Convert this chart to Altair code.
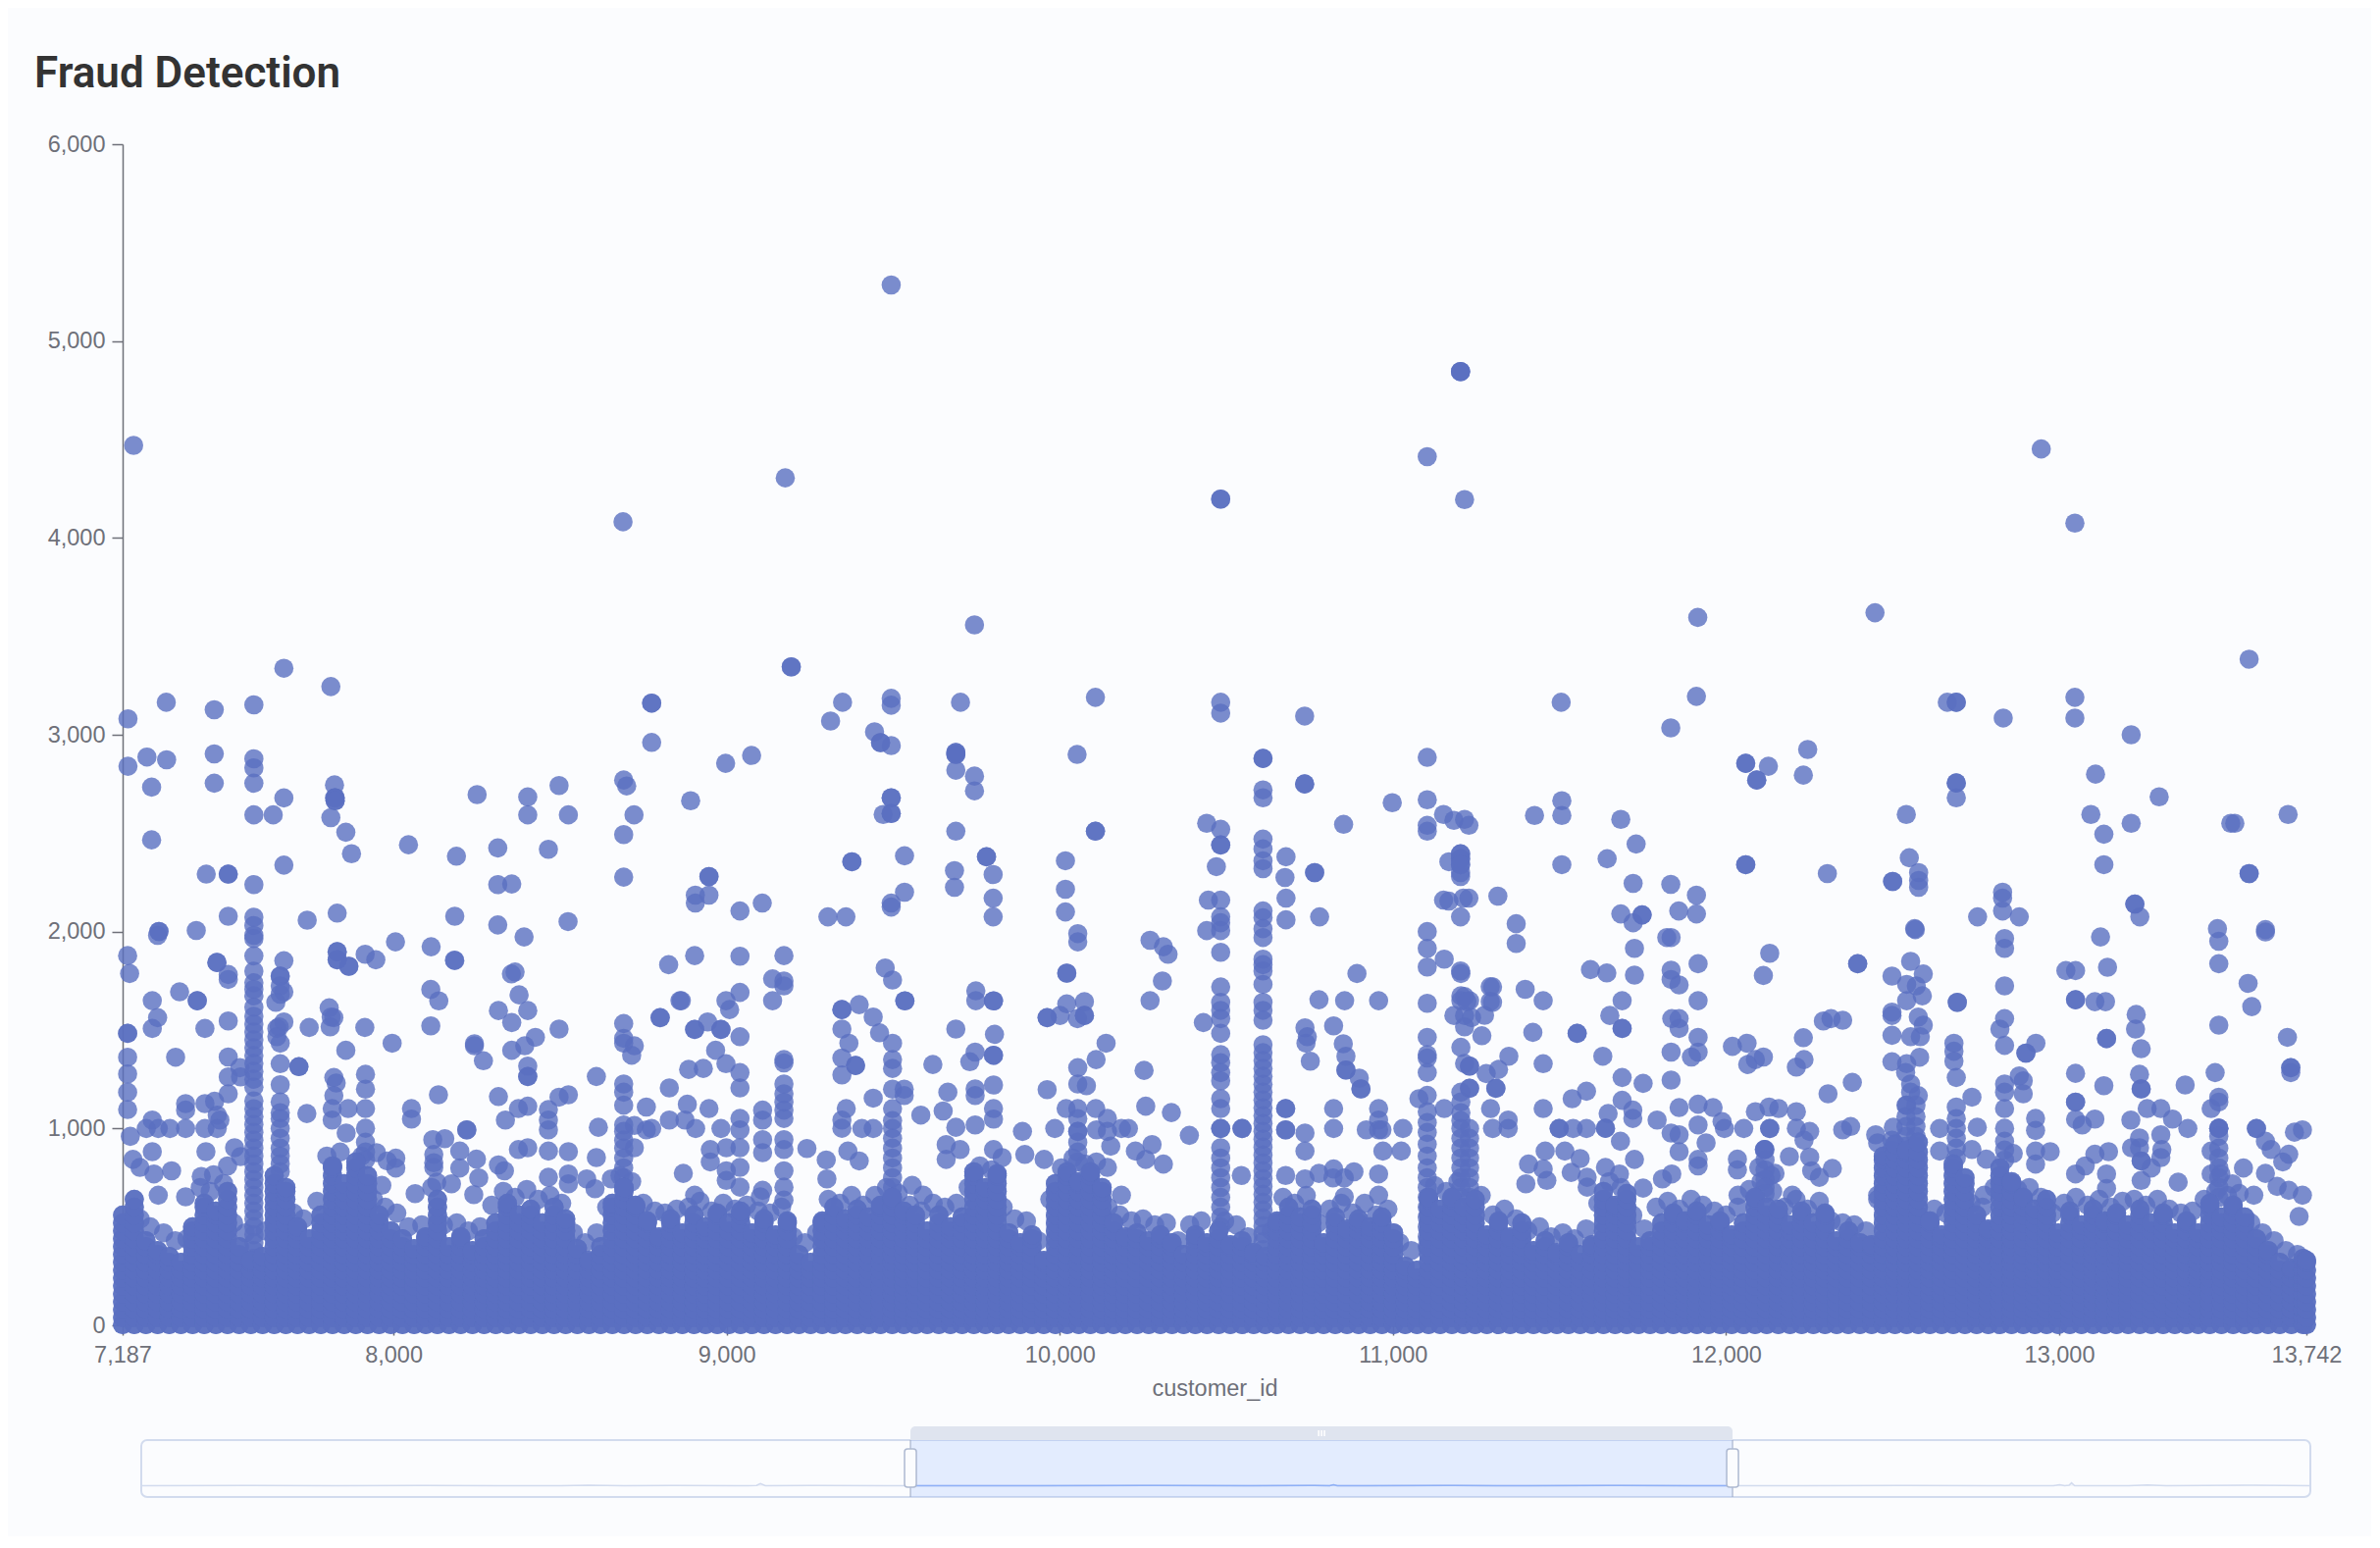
import altair as alt
import pandas as pd

# Values. The solid band near zero cannot be resolved into single
# customers, so it is given by its visible height at each customer_id.
upper_points = [
(9494,5285),(7220,4470),(11203,4845),(11103,4413),(11215,4195),(9176,4305),(8689,4082),(12946,4452),(13047,4075),
(9744,3558),(11915,3596),(12447,3620),(13570,3384),(7671,3338),(7812,3245),(7203,3081),(7203,2840),(7318,3165),(7462,3127),
(7581,3152),(7260,2887),(7319,2873),(7462,2903),(7462,2754),(7274,2734),(7274,2466),(7581,2878),(7581,2832),(7581,2754),
(7823,2745),(7823,2679),(7812,2579),(7857,2505),(7874,2396),(7581,2593),(7639,2593),(7671,2679),(7671,2338),(7438,2292),
(7581,2239),(8045,2441),(8189,2383),(8251,2696),(8313,2425),(8403,2684),(8403,2593),(8525,2593),(8497,2742),(8465,2418),
(8313,2239),(8355,2242),(8691,2770),(8700,2740),(8722,2593),(8691,2493),(8691,2277),(8775,2961),(8892,2665),(8997,2855),
(9075,2895),(9107,2145),(9040,2105),(8947,2185),(8906,2185),(8906,2145),(9312,3070),(9348,3165),(9304,2075),(9358,2075),
(9444,3015),(9494,3185),(9494,3150),(9494,2945),(9470,2595),(9534,2385),(9534,2200),(9494,2145),(9494,2125),(9684,2310),
(9684,2225),(9688,2510),(9702,3165),(9688,2820),(9744,2790),(9744,2715),(9800,2290),(9800,2170),(9800,2075),(10017,2360),
(10017,2215),(10017,2100),(10052,2900),(10107,3190),(10483,3165),(10483,3110),(10441,2550),(10483,2520),(10470,2330),
(10446,2160),(10483,2160),(10483,2075),(10483,2045),(10441,2005),(10483,2005),(10610,2720),(10610,2680),(10610,2470),
(10610,2420),(10610,2360),(10610,2320),(10610,2105),(10610,2070),(10610,2015),(10610,1970),(10679,2380),(10676,2275),
(10679,2170),(10679,2060),(10735,3095),(10780,2075),(10852,2545),(10998,2655),(11103,2885),(11103,2670),(11103,2540),
(11103,2510),(11103,2000),(11103,1915),(11152,2595),(11183,2565),(11215,2570),(11228,2540),(11168,2355),(11203,2300),
(11203,2280),(11152,2160),(11168,2155),(11211,2170),(11228,2170),(11203,2075),(11315,2180),(11370,2040),(11370,1940),
(11425,2590),(11507,2590),(11507,2665),(11507,2340),(11505,3165),(11643,2370),(11684,2570),(11730,2445),(11721,2245),
(11684,2090),(11721,2045),(11834,2240),(11858,2105),(11911,2185),(11911,2090),(11834,3035),(11911,3195),(12127,2840),
(12245,2925),(12232,2795),(12304,2295),(12541,2595),(12550,2375),(12578,2300),(12578,2260),(12578,2225),(12566,2015),
(12568,2010),(12664,3165),(12691,2680),(12755,2075),(12832,3085),(12830,2200),(12830,2170),(12830,2105),(12880,2075),
(13047,3190),(13047,3085),(13109,2800),(13095,2595),(13134,2495),(13134,2340),(13216,3000),(13216,2550),(13242,2075),
(13300,2685),(13475,2015),(13515,2550),(13527,2550),(13619,2010),(13687,2595),
]
double_points = [
(11203,4845),(10483,4197),(9194,3345),(8775,3161),(7504,2292),(7296,2001),(7825,2680),(7825,2665),(9376,2355),
(9494,2680),(9494,2600),(9462,2960),(9688,2910),(9688,2900),(9780,2380),(10107,2510),(10483,2440),(10610,2880),
(10735,2750),(10765,2300),(11203,2395),(11203,2370),(11203,2340),(11748,2085),(12059,2855),(12059,2340),(12092,2770),
(12500,2255),(12691,3165),(12691,2755),(13227,2140),(13570,2295),(8947,2280),(7831,1898),
(7831,1857),(7866,1824),(7470,1843),(7716,1314),(7411,1649),(7202,1483),(7660,1774),(8220,993),(8403,1264),
(8904,1503),(8983,1503),(9346,1604),(9387,1320),(9535,1648),(9801,1648),(9801,1372),(10021,1789),(9962,1563),
(10074,1574),(10547,1000),(10678,1101),(10678,993),(11553,1483),(11688,1508),(12395,1837),(12694,1641),(12900,1383),
(13049,1654),(13142,1457),(13695,1309),(13049,1134),(13592,1000),(12131,1000),(12115,893),(13479,1001),(11230,1317),
(11230,1204),(11309,1204),(10859,1297),(10904,1201),(11499,1000),(11638,1001),(13246,835),(13246,1201),
]
middle_points = [
(7202,1878),(7208,1787),(7292,1981),(7408,2006),(7504,2078),(7741,2058),(7831,2094),(8006,1948),(8113,1923),(8184,2078),
(8184,1853),(8313,2034),(8524,2051),(8392,1973),(7915,1885),(7947,1857),(7671,1852),(7504,1782),(7504,1757),(7660,1724),
(7660,1682),(7671,1694),(7647,1641),(7671,1541),(7657,1516),(7650,1508),(7650,1466),(7660,1433),(7660,1329),(7660,1222),
(7740,1076),(7747,1513),(7807,1613),(7813,1566),(7821,1563),(7810,1516),(8183,1855),(8112,1706),(8136,1648),(8112,1521),
(8354,1785),(8365,1795),(8377,1679),(8403,1599),(8315,1599),(8355,1538),(8426,1463),(8394,1420),(8355,1397),(8497,1505),
(8243,1430),(8243,1420),(8270,1344),(8403,1317),(8609,1264),(8691,1533),(8691,1458),(8691,1433),(8723,1420),(8715,1372),
(7914,1513),(7996,1433),(7857,1397),(7346,1362),(7434,1508),(7504,1546),(7358,1694),(7276,1649),(7292,1563),(7276,1508),
(7202,1362),(7202,1277),(7202,1184),(7202,1096),(7504,1363),(7504,1262),(7539,1309),(7541,1262),(7504,1176),(7463,1138),
(7434,1126),(7376,1126),(7376,1093),(7471,1068),(7479,1043),(7276,1043),(7258,1000),(7294,1000),(7329,1000),(7376,1000),
(7434,1000),(7471,1000),(7210,960),(7276,882),(7218,843),(7239,802),(7281,769),(7334,785),(7437,882),(7523,902),(7541,857),
(7502,810),(7423,756),(7460,765),(7294,661),(7376,653),(7821,1259),(7828,1231),(7821,1167),(7816,1101),(7816,1043),
(7916,1275),(7916,1200),(7916,1101),(7916,1001),(7864,1101),(7858,977),(8135,1171),(8054,1101),(8054,1048),(8118,943),
(8154,948),(8121,868),(8121,826),(8121,802),(8130,727),(8199,885),(8199,799),(8174,719),(8249,844),(8256,749),(8241,664),
(8007,849),(8007,799),(7981,835),(7949,877),(7965,711),(8065,669),(8315,815),(8333,785),(8336,1043),(8315,1162),(8375,1101),
(8403,1113),(8375,893),(8403,902),(8465,1096),(8465,993),(8465,1043),(8497,1159),(8525,1171),(8465,885),(8465,752),(8525,882),
(8525,769),(8525,719),(8615,1006),(8609,852),(8580,744),(8605,694),(8654,744),(8691,1226),(8691,1184),(8691,1118),(8723,1015),
(8691,1018),(8691,985),(8723,902),(8759,1109),(8759,993),
(8826,1832),(8800,1563),(8860,1649),(8904,1878),(9040,1875),(9172,1878),(9138,1760),(9172,1749),(9172,1724),(9138,1649),
(9040,1691),(8998,1649),(9009,1604),(8864,1649),(8801,1563),(8943,1541),(9040,1466),(8967,1397),(8998,1329),(9040,1284),
(9040,1206),(8886,1300),(8930,1305),(8828,1206),(8882,1123),(8947,1101),(8828,1043),(8775,1000),(8875,1043),(8907,1000),
(8983,1000),(9040,1051),(9040,993),(9040,902),(9108,1093),(9108,1043),(9172,1093),(9172,1051),(9172,1350),(9172,1333),
(9172,1226),(9172,1176),(9172,1134),(9108,943),(9108,877),(9172,943),(9172,893),(9241,898),(8951,893),(8951,830),(8999,902),
(8999,785),(8999,736),(9040,702),(9040,802),(8870,772),(8904,661),(9172,785),(9172,702),(9172,636),(9108,686),(9101,653),
(9299,840),(9301,744),(9364,885),(9398,835),(9346,1043),(9346,1001),(9359,1101),(9346,1505),(9398,1629),(9440,1566),(9459,1486),
(9498,1433),(9367,1433),(9346,1358),(9346,1272),(9476,1815),(9498,1754),(9498,1350),(9498,1305),(9619,1325),(9498,1200),
(9533,1200),(9533,1167),(9440,1154),(9583,1068),(9406,1000),(9440,1000),(9748,1699),(9748,1649),(9688,1505),(9804,1478),
(9746,1388),(9730,1339),(9664,1184),(9650,1089),(9746,1201),(9746,1167),(9801,1221),(9801,1101),(9801,1048),(9688,1006),
(9746,1018),(9659,918),(9659,843),(9701,893),(9801,893),(9827,852),(9557,711),(9590,661),(9888,985),(9895,868),(9953,843),
(9985,1000),(10054,1309),(10054,1226),(10080,1217),(10019,1101),(10054,1101),(10108,1101),(10143,1051),(10185,1000),(10206,1000),
(10054,985),(10110,993),(10143,985),(10153,910),(9962,1197),(10253,1295),(10258,1113),(10335,1081),(10139,1433),(10109,1350),
(10021,1633),(10074,1644),(10001,1574),(10053,1558),(10271,1956),(10311,1923),(10325,1885),(10308,1749),(10271,1649),(10054,1948),
(10054,1990),(10227,885),(10258,843),(10277,918),(10311,819),(10185,661),(10143,802),
(10483,1895),(10431,1538),(10389,965),(10736,977),(10736,885),(10545,761),(10678,761),(10736,744),(10778,772),(10822,794),
(10883,780),(10957,769),(10854,749),(10820,749),(10854,653),(10957,661),(10778,1654),(10855,1649),(10957,1649),(10736,1511),
(10743,1466),(10739,1433),(10752,1342),(10822,1521),(10851,1430),(10859,1367),(10899,1256),(10892,1787),(10822,1101),(10822,1000),
(10957,1101),(10957,1043),(10957,993),(10967,993),(10920,993),(11030,1000),(10970,885),(11025,885),(11154,1860),(11204,1787),
(11103,1820),(11103,1636),(11299,1719),(11299,1641),(11397,1707),(11451,1649),(11420,1488),(11451,1329),(11593,1807),(11725,1915),
(11725,1779),(11835,1970),(11835,1804),(11835,1757),(11859,1729),(11916,1837),(11916,1649),(11688,1649),(11651,1574),(11204,1674),
(11204,1649),(11230,1649),(11183,1574),(11215,1574),(11236,1563),(11215,1516),(11267,1471),(11204,1412),(11215,1330),(11204,1184),
(11280,1279),(11317,1300),(11348,1367),(11293,1101),(11346,1043),(11346,1000),(11299,1000),(11103,1463),(11103,1375),(11103,1358),
(11103,1284),(11078,1151),(11103,1168),(11154,1101),(11630,1367),(11688,1259),(11751,1229),(11835,1246),(11835,1388),(11896,1363),
(11916,1388),(11916,1463),(11837,1558),(11859,1558),(11859,1508),(11451,1101),(11581,1189),(11538,1151),(11541,1000),(11581,1000),
(11683,935),(11688,1143),(11720,1093),(11720,1051),(11646,1076),(11793,1043),(11859,1106),(11916,1123),(11961,1106),(11988,1035),
(11916,1018),(11835,977),(11859,968),(11859,882),(11940,927),(11916,843),(11916,810),(11751,697),(11837,769),(11809,744),(11725,843),
(11562,847),(11516,885),(11457,885),(11407,819),(11451,794),(11462,736),(11399,719),(11535,777),(11583,752),(11583,702),(11638,802),
(11680,769),(11203,1800),(11215,1670),(11222,1645),(11292,1720),(11292,1645),(11275,1575),(11642,1790),(11822,1970),
(12131,1890),(12112,1777),(12498,1774),(12554,1849),(12592,1785),(12571,1724),(12589,1674),(12542,1732),(12542,1649),(12498,1591),
(12498,1574),(12498,1473),(12498,1339),(12577,1566),(12592,1525),(12583,1466),(12554,1466),(12581,1362),(12542,1329),(12539,1284),
(12684,1433),(12684,1392),(12684,1342),(12691,1259),(12738,1159),(12554,1226),(12554,1184),(12577,1167),(12542,1118),(12836,1965),
(12836,1915),(12836,1724),(12836,1558),(12822,1505),(12836,1422),(12930,1433),(12892,1242),(12880,1267),(12892,1176),(12836,1226),
(12836,1184),(12929,1051),(12929,990),(12862,873),(12973,882),(12929,885),(12929,819),(12781,844),(12738,893),(12641,1000),(12754,1006),
(12775,661),(12641,885),(13020,1802),(13049,1802),(13145,1819),(13107,1644),(13139,1644),(13231,1579),(13229,1505),(13246,1405),
(13049,1280),(13134,1217),(13241,1275),(13049,1046),(13069,1018),(13107,1048),(13378,1221),(13124,1973),(13479,1951),(13479,1837),
(13479,1525),(13619,1998),(13567,1737),(13578,1619),(13685,1463),(13695,1284),(13468,1284),(13479,1159),(13479,1134),(13456,1101),
(13706,981),(13730,993),(13264,1101),(13305,1101),(13340,1048),(13215,1043),(13386,1000),(13305,968),(13308,893),(13305,852),(13241,952),
(13241,902),(13217,902),(13276,799),(13246,736),(13357,727),(13148,882),(13107,869),(13078,810),(13049,769),(13142,769),(13142,695),
(13619,935),(13636,893),(13689,869),(13671,830),(13553,799),(13619,772),(13654,706),(13689,686),(13730,661),(13584,661),(13720,553),
(13456,885),(13456,769),(13485,769),(13520,719),(12019,1417),(12063,1433),(12065,1325),(12112,1363),(12088,1350),(12232,1461),(12234,1350),
(12211,1312),(12292,1546),(12315,1558),(12350,1550),(12379,1234),(12306,1176),(12088,1085),(12129,1109),(12158,1101),(12211,1085),(11995,1000),
(12053,1000),(12211,1001),(12251,985),(12234,940),(12374,1010),(12350,993),(12190,857),(12251,855),(12319,797),(12034,844),(12034,790),
(12098,802),(12147,772),(12135,761),(12257,785),(12280,752),(12036,661),(12199,661),(12449,968),(12455,927),(12455,661),(12502,1006),
]
fringe_points = [
(7240,540),(7270,500),(7310,470),(7345,430),(7380,440),(7420,700),(7450,680),(7490,720),(7520,520),(7555,470),(7615,480),(7700,570),
(7730,540),(7770,630),(7800,860),(7840,880),(7905,860),(7940,640),(7975,600),(8010,570),(8045,500),(8085,510),(8115,700),(8150,510),
(8190,520),(8225,480),(8260,500),(8295,610),(8330,680),(8365,650),(8400,690),(8435,640),(8470,660),(8505,620),(8540,470),(8575,420),
(8610,470),(8640,600),(8680,760),(8715,730),(8750,620),(8785,580),(8815,570),(8850,590),(8885,600),(8920,630),(8955,580),(8990,620),
(9025,590),(9060,610),(9095,580),(9130,570),(9165,600),(9200,450),(9235,420),(9270,470),(9305,640),(9340,620),(9375,660),(9410,610),
(9445,660),(9480,700),(9515,670),(9550,610),(9585,580),(9620,620),(9655,600),(9690,620),(9725,700),(9760,810),(9795,790),(9830,600),
(9865,540),(9900,530),(9935,430),(9970,640),(10005,800),(10040,850),(10075,820),(10110,830),(10145,600),(10180,560),(10215,530),(10250,540),
(10285,510),(10320,520),(10355,430),(10390,510),(10425,530),(10495,530),(10530,510),(10565,450),(10635,480),(10670,650),(10705,620),(10740,660),
(10775,520),(10810,590),(10845,620),(10880,570),(10915,620),(10950,560),(10985,590),(11020,420),(11055,380),(11125,710),(11160,680),(11195,730),
(11265,660),(11300,560),(11335,590),(11370,540),(11405,480),(11440,500),(11475,450),(11510,470),(11545,440),(11580,490),(11615,620),(11650,730),
(11685,700),(11720,560),(11755,490),(11790,600),(11825,630),(11860,590),(11895,640),(11930,610),(11965,580),(12000,560),(12035,600),(12070,690),
(12105,730),(12140,680),(12175,600),(12210,640),(12245,590),(12280,630),(12315,530),(12350,520),(12385,510),(12420,480),(12455,640),(12625,590),
(12660,570),(12735,620),(12770,600),(12805,700),(12875,690),(12910,700),(12945,650),(12980,570),(13015,620),(13050,650),(13085,610),(13120,640),
(13155,600),(13190,630),(13225,640),(13260,610),(13295,640),(13330,590),(13365,570),(13400,580),(13435,640),(13470,680),(13505,660),(13540,670),
(13575,520),(13610,470),(13645,430),(13680,380),(13715,360),
]
column_ids = [7581,7660,7916,8691,9498,10483,10610,11103,11204,11230,12117,12498,12540,12570,12691,12836,13479,10054]
column_amounts = [
[2073,2031,1981,1965,1877,1799,1740,1707,1674,1616,1570,1530,1490,1450,1410,1370,1330,1290,1250,1210,1140,1100,1060,1020,980,940,900,860,820,780,740,700,660,620,580,540,500,460,420,380,340],
[1135,1080,1050,1000,950,900,860,820,780],
[930,880,840],
[940,900,850,800,750,700],
[1101,1040,1000,950,900,850,800,750,700,650],
[1719,1641,1600,1558,1483,1375,1334,1284,1242,1151,1101,1000,1000,902,850,800,750,700,650,600,550,500],
[1860,1832,1800,1732,1641,1600,1550,1425,1385,1345,1305,1265,1225,1185,1145,1105,1065,1025,985,945,905,865,825,785,745,705,665,625,585,545,505,465,425,385],
[1085,1030,980,920,860,800,750,700,650,600,550,500,450,400],
[1135,1080,1040,1000,950,900,850,800,750,700,650],
[1000,950,900,850,800,750,700,650],
[893,840,790,740,700,669],
[940,890,840,790,740,690,640],
[1118,1060,1010,960,910],
[1118,1060,1010,960,910,860],
[1109,1050,1000,950,900,850],
[1101,1001,935,890,840],
[1001,960,900,850,800,750,700,650],
[1050,985,930,880,830],
]
band_ids = [7187,7222,7257,7292,7327,7362,7397,7432,7467,7502,7537,7572,7607,7642,7677,7712,7747,7782,7817,7852,7887,7922,7957,7992,8027,8062,8097,8132,8167,8202,8237,8272,8307,8342,8377,8412,8447,8482,8517,8552,8587,8622,8657,8692,8727,8762,8797,8832,8867,8902,8937,8972,9007,9042,9077,9112,9147,9182,9217,9252,9287,9322,9357,9392,9427,9462,9497,9532,9567,9602,9637,9672,9707,9742,9777,9812,9847,9882,9917,9952,9987,10022,10057,10092,10127,10162,10197,10232,10267,10302,10337,10372,10407,10442,10477,10512,10547,10582,10617,10652,10687,10722,10757,10792,10827,10862,10897,10932,10967,11002,11037,11072,11107,11142,11177,11212,11247,11282,11317,11352,11387,11422,11457,11492,11527,11562,11597,11632,11667,11702,11737,11772,11807,11842,11877,11912,11947,11982,12017,12052,12087,12122,12157,12192,12227,12262,12297,12332,12367,12402,12437,12472,12507,12542,12577,12612,12647,12682,12717,12752,12787,12822,12857,12892,12927,12962,12997,13032,13067,13102,13137,13172,13207,13242,13277,13312,13347,13382,13417,13452,13487,13522,13557,13592,13627,13662,13697,13732,13742]
band_tops = [560,640,430,380,350,320,500,620,580,680,400,330,350,760,700,500,440,560,810,720,830,760,560,480,440,390,450,640,400,450,380,440,520,620,560,590,520,600,540,390,330,400,620,700,610,530,450,540,470,560,500,570,520,580,470,540,460,530,360,320,
530,600,540,590,550,610,650,580,560,480,560,500,550,780,700,770,470,420,460,330,
720,780,730,780,700,520,450,470,430,460,420,360,
460,420,480,410,430,370,350,530,600,550,590,420,550,490,540,500,550,470,300,280,
650,590,650,600,640,460,530,450,520,380,430,370,420,360,410,680,610,670,400,430,
520,570,530,580,510,530,460,520,650,600,590,510,580,520,570,430,480,420,410,860,
920,890,930,530,460,820,750,560,490,800,730,650,590,640,470,
580,510,590,530,570,510,590,520,570,470,530,470,620,550,610,550,440,380,320,290,340,330]
band_levels = [4,40,80,120,160,200,240,280,320,360,400,440,480,520,560,600,640,680,720,760,800,840,880]

y_ticks = [0,1000,2000,3000,4000,5000,6000]
x_ticks = [7187,8000,9000,10000,11000,12000,13000,13742]
slider_range = [1054,18349]
window = [7187,13742]
mini_ids = [1054,1900,2600,3300,3900,4400,4620,4900,5300,5800,5960,5991,6030,6400,7000,7187,8200,9100,9900,10400,10530,10560,10590,10800,11500,12100,12800,13400,13742,14300,15100,15800,16300,16350,16390,16425,16445,16470,16900,17050,17200,17900,18349]
mini_vals = [60,90,60,80,60,70,130,60,100,60,90,340,60,80,60,70,60,80,60,90,70,180,70,60,80,60,90,60,70,60,80,70,60,200,70,120,430,70,60,150,60,130,60]
grip_ids = [10442,10465,10488]

rows = [(i,a) for i,a in upper_points+double_points+double_points+middle_points+fringe_points]
for cid, amounts in zip(column_ids, column_amounts):
    rows += [(cid,a) for a in amounts]
for cid, top in zip(band_ids, band_tops):
    rows += 2 * ([(cid,lv) for lv in band_levels if lv < top] + [(cid,top)])
df = pd.DataFrame(rows, columns=["customer_id","amount"])

TXT="#6e7079"; FONT="Liberation Sans"
scatter = alt.Chart(df).mark_point(filled=True, shape="circle", size=384, opacity=0.8, color="#5a6fc0").encode(
    x=alt.X("customer_id:Q", scale=alt.Scale(domain=window, nice=False, zero=False),
        axis=alt.Axis(values=x_ticks, format=",d", grid=False, title="customer_id", titleFont=FONT, titleFontSize=23.5,
            titleFontWeight="normal", titleColor=TXT, titlePadding=11, labelFont=FONT, labelFontSize=23.5, labelColor=TXT,
            labelPadding=8, tickSize=10, tickColor=TXT, tickWidth=1.5, domainColor=TXT, domainWidth=1.5, labelFlush=False, labelOverlap=False)),
    y=alt.Y("amount:Q", scale=alt.Scale(domain=[0,6000], nice=False),
        axis=alt.Axis(values=y_ticks, format=",d", grid=False, title=None, labelFont=FONT, labelFontSize=23.5, labelColor=TXT,
            labelPadding=7, tickSize=11, tickColor=TXT, tickWidth=1.5, domainColor=TXT, domainWidth=1.5)),
)

# data-zoom strip, on a customer_id scale of its own placed below the plot
SX = alt.Scale(domain=slider_range, range=[19,2230], nice=False, zero=False)
SY = alt.Scale(domain=[0,6000], range=[1368,1321], nice=False)
def sx(f="a:Q"): return alt.X(f, scale=SX, axis=None)
def sy(f="b:Q"): return alt.Y(f, scale=SY, axis=None)
frame_df = pd.DataFrame({"a":[slider_range[0]],"a2":[slider_range[1]]})
win_df = pd.DataFrame({"a":[window[0]],"a2":[window[1]]})
mini_df = pd.DataFrame({"a":mini_ids,"b":mini_vals})
mini_in = mini_df[(mini_df.a>=window[0])&(mini_df.a<=window[1])]
grip_df = pd.DataFrame({"a":grip_ids})
handle_df = pd.DataFrame({"a":window})

frame = alt.Chart(frame_df).mark_rect(fill="#fbfcfe", stroke="#d2dbee", strokeWidth=2, cornerRadius=6).encode(
    x=sx(), x2="a2:Q", y=alt.value(1321), y2=alt.value(1379))
area = alt.Chart(mini_df).mark_area(color="#d2dbee", opacity=0.25, interpolate="linear").encode(x=sx(), y=sy(), y2=alt.value(1378))
line = alt.Chart(mini_df).mark_line(color="#d2dbee", strokeWidth=1.5).encode(x=sx(), y=sy())
win = alt.Chart(win_df).mark_rect(fill="#87afff", fillOpacity=0.2).encode(
    x=sx(), x2="a2:Q", y=alt.value(1321), y2=alt.value(1379))
bar = alt.Chart(win_df).mark_rect(fill="#dfe4ef", cornerRadiusTopLeft=5, cornerRadiusTopRight=5).encode(
    x=sx(), x2="a2:Q", y=alt.value(1307), y2=alt.value(1321))
line_in = alt.Chart(mini_in).mark_line(color="#8fb0f7", strokeWidth=1.5).encode(x=sx(), y=sy())
edge = alt.Chart(handle_df).mark_rule(color="#9aa8c4", strokeWidth=1).encode(x=sx(), y=alt.value(1321), y2=alt.value(1379))
handle = alt.Chart(handle_df).mark_rect(width=12, fill="#fbfcfe", stroke="#aeb9d1", strokeWidth=1.5, cornerRadius=3).encode(
    x=sx(), y=alt.value(1330), y2=alt.value(1369))
grip = alt.Chart(grip_df).mark_rule(color="#ffffff", strokeWidth=1.5).encode(x=sx(), y=alt.value(1311), y2=alt.value(1317))

chart = alt.layer(scatter, frame, area, line, win, bar, line_in, edge, handle, grip).resolve_scale(x="independent", y="independent").properties(
    width=2226, height=1204,
    title=alt.TitleParams("Fraud Detection", anchor="start", frame="group", dx=-90, dy=-33, font="Roboto", fontSize=44, fontWeight=600, color="#333333"),
    background="#fbfcfe",
    padding={"left":117,"top":139,"right":66,"bottom":215},
    autosize=alt.AutoSizeParams(type="none"),
).configure_view(stroke=None)
chart.save("out.html", embed_options={"renderer":"svg","actions":False})
